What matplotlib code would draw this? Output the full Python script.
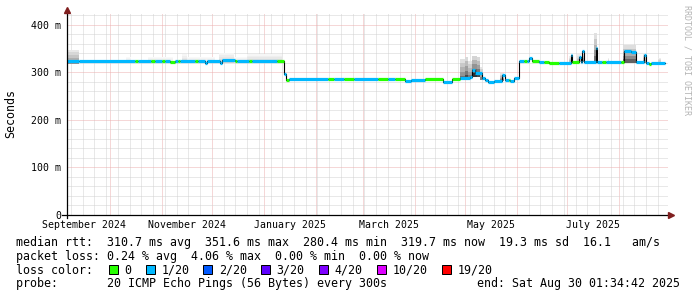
import numpy as np
import pandas as pd
import matplotlib
matplotlib.use('Agg')
import matplotlib.pyplot as plt
import matplotlib.dates as mdates
from matplotlib.ticker import MultipleLocator, FuncFormatter
from matplotlib.transforms import blended_transform_factory
from matplotlib.patches import Rectangle

plt.rcParams['font.family'] = ['DejaVu Sans Mono']

# median rtt (ms) per period and lost pings (out of 20) in that period
seg_start = ['2024-09-05', '2024-09-13', '2024-10-16', '2024-10-18', '2024-10-26',
             '2024-10-28', '2024-11-01', '2024-11-03', '2024-11-06', '2024-11-09',
             '2024-11-11', '2024-11-12', '2024-11-21', '2024-11-23', '2024-11-27',
             '2024-11-28', '2024-12-06', '2024-12-07', '2024-12-15', '2024-12-16',
             '2024-12-23', '2024-12-25', '2025-01-09', '2025-01-13', '2025-01-14',
             '2025-01-16', '2025-02-08', '2025-02-12', '2025-02-18', '2025-02-24',
             '2025-03-10', '2025-03-16', '2025-03-20', '2025-03-26', '2025-03-30',
             '2025-04-07', '2025-04-18', '2025-04-23', '2025-04-28', '2025-05-04',
             '2025-05-05', '2025-05-07', '2025-05-11', '2025-05-13', '2025-05-15',
             '2025-05-18', '2025-05-23', '2025-05-25', '2025-05-27', '2025-05-28',
             '2025-05-30', '2025-06-02', '2025-06-05', '2025-06-07', '2025-06-08',
             '2025-06-10', '2025-06-14', '2025-06-17', '2025-06-20', '2025-06-26',
             '2025-07-03', '2025-07-04', '2025-07-08', '2025-07-09', '2025-07-10',
             '2025-07-11', '2025-07-18', '2025-07-19', '2025-07-22', '2025-07-24',
             '2025-08-02', '2025-08-04', '2025-08-08', '2025-08-11', '2025-08-16',
             '2025-08-17', '2025-08-19', '2025-08-20']
seg_median = [325, 323.5, 323.5, 323.5, 324,
              323, 323, 324, 322, 324,
              324, 324, 325, 324, 320,
              324, 320, 326, 325, 325,
              324, 325, 325, 297, 283,
              287, 287, 287, 287, 287,
              287, 286, 287, 282, 285,
              287, 280.5, 286, 288, 291,
              305, 298, 288, 284, 280.4,
              282, 295, 283, 283, 282,
              288, 323, 324, 324, 330,
              324, 321, 321, 319, 320,
              337, 321, 333, 321, 344,
              321, 351.6, 322, 321, 322,
              322, 344, 342, 321, 337,
              319, 318, 320]
seg_loss = [1, 1, 0, 1, 0,
            1, 0, 1, 0, 1,
            0, 1, 0, 1, 1,
            1, 1, 1, 0, 1,
            0, 1, 0, 1, 0,
            1, 0, 1, 0, 1,
            0, 1, 0, 1, 1,
            0, 1, 0, 1, 1,
            1, 1, 1, 1, 1,
            1, 1, 1, 0, 1,
            1, 1, 0, 1, 1,
            0, 1, 0, 0, 1,
            1, 0, 1, 1, 1,
            1, 1, 1, 0, 1,
            0, 1, 1, 1, 1,
            1, 0, 1]
data_end = '2025-08-28'

# smoke (spread of the 20 pings)
smoke_start = ['2024-09-05', '2024-10-11', '2024-10-24', '2024-11-13', '2024-11-16',
               '2024-12-05', '2024-12-14', '2024-12-22', '2025-04-28', '2025-05-01',
               '2025-05-03', '2025-05-05', '2025-05-08', '2025-05-10', '2025-05-22',
               '2025-07-02', '2025-07-07', '2025-07-10', '2025-07-17', '2025-07-25',
               '2025-08-03', '2025-08-15', '2025-08-24']
smoke_end = ['2024-09-13', '2024-10-14', '2024-11-08', '2024-11-16', '2024-12-03',
             '2024-12-14', '2024-12-22', '2025-01-12', '2025-05-01', '2025-05-03',
             '2025-05-05', '2025-05-08', '2025-05-10', '2025-05-12', '2025-05-24',
             '2025-07-04', '2025-07-09', '2025-07-11', '2025-07-19', '2025-07-26',
             '2025-08-11', '2025-08-17', '2025-08-26']
smoke_lo = [318, 320, 320, 320, 320,
            320, 320, 320, 284, 284,
            286, 290, 290, 284, 282,
            320, 321, 321, 322, 321,
            320, 319, 318]
smoke_hi = [348, 333, 332, 338, 333,
            340, 333, 339, 328, 333,
            325, 335, 332, 312, 298,
            334, 338, 343, 383, 330,
            357, 338, 330]
smoke_shade = [0.45, 0.12, 0.12, 0.18, 0.12,
               0.2, 0.12, 0.18, 0.6, 0.75,
               0.55, 0.85, 0.75, 0.5, 0.5,
               0.35, 0.35, 0.45, 0.6, 0.3,
               0.65, 0.45, 0.35]

loss_levels = [0, 1, 2, 3, 4, 10, 19]
loss_labels = ['0', '1/20', '2/20', '3/20', '4/20', '10/20', '19/20']
loss_colors = ['#26ff00', '#00b8ff', '#0059ff', '#5e00ff', '#7e00ff', '#dd00ff', '#ff0000']

rtt_stats = [310.7, 351.6, 280.4, 319.7]
rtt_sd = 19.3
rtt_ams = 16.1
loss_stats = [0.24, 4.06, 0.00, 0.00]
probe_text = '20 ICMP Echo Pings (56 Bytes) every 300s'
end_text = 'end: Sat Aug 30 01:34:42 2025'

month_labels = ['September 2024', 'November 2024', 'January 2025',
                'March 2025', 'May 2025', 'July 2025']
month_label_start = ['2024-09-01', '2024-11-01', '2025-01-01',
                     '2025-03-01', '2025-05-01', '2025-07-01']

t_start = '2024-09-05 15:00'
t_end = '2025-08-30 01:34:42'

W, H = 697, 297
fig = plt.figure(figsize=(W / 100, H / 100), dpi=100)
fig.patch.set_facecolor('white')
ax = fig.add_axes([67 / W, 1 - 215 / H, 601 / W, 202 / H])

ax.set_xlim(mdates.date2num(pd.Timestamp(t_start)), mdates.date2num(pd.Timestamp(t_end)))
ax.set_ylim(0, 425)

# grid
ax.xaxis.set_major_locator(mdates.MonthLocator())
ax.xaxis.set_minor_locator(mdates.WeekdayLocator(byweekday=mdates.SU))
ax.yaxis.set_major_locator(MultipleLocator(100))
ax.yaxis.set_minor_locator(MultipleLocator(20))
ax.grid(which='minor', color='#d2d2d2', ls=(0, (1, 1)), lw=0.72)
ax.grid(which='major', color='#ecb0b0', ls=(0, (1, 1)), lw=0.72)
ax.set_axisbelow(True)
ax.tick_params(axis='x', which='both', length=0, labelbottom=False)
ax.tick_params(axis='y', which='both', length=0, labelsize=7.1, pad=4.3)
ax.yaxis.set_major_formatter(FuncFormatter(lambda v, p: '0' if v == 0 else '%d m' % v))
for s in ax.spines.values():
    s.set_visible(False)

# smoke
s0 = mdates.date2num(pd.to_datetime(smoke_start))
s1 = mdates.date2num(pd.to_datetime(smoke_end))
for a, b, lo, hi, sh in zip(s0, s1, smoke_lo, smoke_hi, smoke_shade):
    for f, k in [(1.0, 0.2), (0.8, 0.35), (0.6, 0.5), (0.4, 0.7), (0.2, 0.95)]:
        g = 1 - sh * k
        ax.fill_between([a, b], lo, lo + f * (hi - lo), color=(g, g, g), lw=0)

# median line
x0 = mdates.date2num(pd.to_datetime(seg_start))
x1 = np.append(x0[1:], mdates.date2num(pd.Timestamp(data_end)))
ax.step(np.append(x0, x1[-1]), seg_median + [seg_median[-1]], where='post',
        color='black', lw=0.8)
cols = [loss_colors[loss_levels.index(l)] for l in seg_loss]
ax.hlines(seg_median, x0, x1, colors=cols, lw=2.3)

# axes lines and arrows
ax.plot([0, 0], [-3 / 202, 1.0], color='black', lw=0.9, transform=ax.transAxes, clip_on=False)
ax.plot([-5 / 601, 1.0], [0, 0], color='black', lw=0.9, transform=ax.transAxes, clip_on=False)
ax.plot([0], [1 + 3 / 202], marker='^', ms=4.5, color='#801f1f', transform=ax.transAxes, clip_on=False)
ax.plot([1 + 3 / 601], [0], marker='>', ms=4.5, color='#801f1f', transform=ax.transAxes, clip_on=False)

# month labels centred on the month
tr = blended_transform_factory(ax.transData, ax.transAxes)
for lab, ms in zip(month_labels, month_label_start):
    a = pd.Timestamp(ms)
    b = a + pd.offsets.MonthBegin(1)
    mid = a + (b - a) / 2
    ax.text(mdates.date2num(mid), -12.5 / 202, lab, transform=tr, ha='center',
            va='baseline', fontsize=7.1)

fig.text(10.5 / W, 1 - 114 / H, 'Seconds', rotation=90, ha='center', va='center', fontsize=8.4)
fig.text(687 / W, 1 - 60 / H, 'RRDTOOL / TOBI OETIKER', rotation=270, ha='center',
         va='center', fontsize=6, color='#b4b4b4')

# legend
fs = 8.4
row1 = 'median rtt:  %.1f ms avg  %.1f ms max  %.1f ms min  %.1f ms now  %.1f ms sd  %.1f   am/s' % (
    rtt_stats[0], rtt_stats[1], rtt_stats[2], rtt_stats[3], rtt_sd, rtt_ams)
row2 = 'packet loss: %.2f %% avg  %.2f %% max  %.2f %% min  %.2f %% now' % tuple(loss_stats)
fig.text(16 / W, 1 - 246 / H, row1, fontsize=fs, va='baseline')
fig.text(16 / W, 1 - 260 / H, row2, fontsize=fs, va='baseline')
fig.text(16 / W, 1 - 273.5 / H, 'loss color:', fontsize=fs, va='baseline')
cw = 7.05
x = 109.0
for lab, c in zip(loss_labels, loss_colors):
    fig.add_artist(Rectangle((x / W, 1 - 274 / H), 9 / W, 9 / H, facecolor=c,
                             edgecolor='black', lw=0.72, transform=fig.transFigure))
    fig.text((x + 15.5) / W, 1 - 273.5 / H, lab, fontsize=fs, va='baseline')
    x = x + 15.5 + (len(lab) + 2) * cw
fig.text(16 / W, 1 - 287.5 / H, 'probe:       ' + probe_text, fontsize=fs, va='baseline')
fig.text(680 / W, 1 - 287.5 / H, end_text, fontsize=fs, va='baseline', ha='right')

fig.savefig('out.png', dpi=100)
